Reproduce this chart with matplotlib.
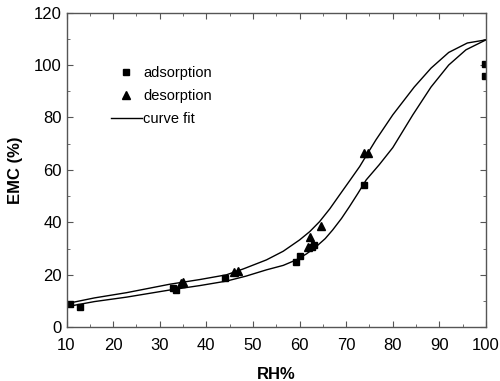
import matplotlib
matplotlib.use("Agg")
import matplotlib.pyplot as plt
from matplotlib.ticker import MultipleLocator
from matplotlib.lines import Line2D

plt.rcParams['font.family'] = ['Liberation Sans', 'DejaVu Sans']

ads_x = [10.7, 12.9, 32.8, 33.4, 44.0, 59.3, 60.0, 62.6, 63.2, 73.9, 99.8, 99.8]
ads_y = [8.9, 7.9, 15.0, 14.3, 18.8, 25.0, 27.3, 30.8, 31.5, 54.3, 100.5, 95.9]

des_x = [34.5, 35.0, 46.0, 46.7, 61.8, 62.3, 64.5, 73.9, 74.6]
des_y = [16.8, 17.3, 21.0, 21.6, 30.5, 34.5, 38.7, 66.4, 66.4]

fit_des_x = [10.5, 16, 22.9, 32.1, 38.6, 44.3, 48, 52.9, 56.5, 60, 62.2, 64.3, 66.5,
             68.6, 70.8, 72.9, 74.5, 76.4, 80, 84.6, 88.2, 92, 96, 100]
fit_des_y = [9.2, 11.2, 13.2, 16.4, 18.2, 20.0, 22.3, 25.7, 29.0, 33.3, 36.5, 40.3, 45.2,
             50.5, 56.0, 61.3, 66.0, 71.5, 81.0, 91.6, 98.8, 104.8, 108.4, 109.6]

fit_ads_x = [10.5, 16, 22.9, 32.1, 38.6, 44.3, 48.5, 52.9, 56.5, 59.3, 61.5, 63.6, 65.5,
             67.1, 69, 70.7, 72.5, 74.3, 77.1, 80, 84.3, 88.2, 92, 95.7, 100]
fit_ads_y = [8.0, 9.8, 11.5, 14.2, 15.9, 17.6, 19.5, 21.9, 23.6, 25.7, 28.0, 30.8, 33.8,
             37.1, 41.5, 46.0, 51.0, 56.2, 62.0, 68.5, 81.0, 91.6, 100.0, 105.8, 109.6]

fig = plt.figure(figsize=(5, 3.81), dpi=100)
ax = fig.add_axes([0.133, 0.141, 0.839, 0.826])

ax.plot(fit_des_x, fit_des_y, color='black', lw=1.0)
ax.plot(fit_ads_x, fit_ads_y, color='black', lw=1.0)
ax.plot(ads_x, ads_y, 's', color='black', ms=4.5, ls='none')
ax.plot(des_x, des_y, '^', color='black', ms=6, ls='none')

ax.set_xlim(10, 100)
ax.set_ylim(0, 120)
ax.xaxis.set_major_locator(MultipleLocator(10))
ax.xaxis.set_minor_locator(MultipleLocator(5))
ax.yaxis.set_major_locator(MultipleLocator(20))
ax.yaxis.set_minor_locator(MultipleLocator(10))
ax.tick_params(which='both', direction='in', top=True, right=True, labeltop=False, labelright=False, color='#555555')
ax.tick_params(which='major', length=4, labelsize=12)
ax.tick_params(axis='x', which='major', pad=8)
ax.tick_params(which='minor', length=2.5)
for s in ax.spines.values():
    s.set_color('#555555')
    s.set_linewidth(1.0)

ax.set_xlabel('RH%', fontsize=12, fontweight='bold', labelpad=10)
ax.set_ylabel('EMC (%)', fontsize=12, fontweight='bold', labelpad=8)

handles = [Line2D([], [], marker='s', color='black', ls='none', ms=4.5),
           Line2D([], [], marker='^', color='black', ls='none', ms=6),
           Line2D([], [], color='black', lw=1.0)]
ax.legend(handles, ['adsorption', 'desorption', 'curve fit'], loc='upper left',
          bbox_to_anchor=(0.075, 0.873), frameon=False, fontsize=10.5,
          handlelength=2.1, handletextpad=0.1, labelspacing=0.62)

fig.savefig('out.png', dpi=100)
